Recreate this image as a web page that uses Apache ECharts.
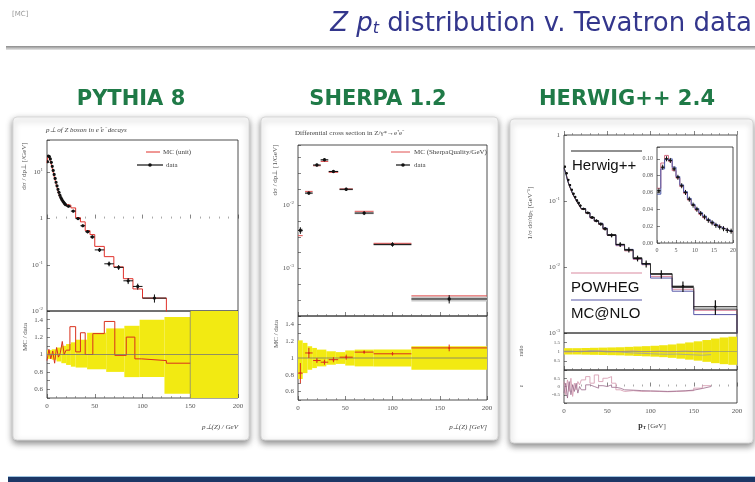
<!DOCTYPE html>
<html><head><meta charset="utf-8">
<script src="https://cdn.jsdelivr.net/npm/echarts@6/dist/echarts.min.js"></script>
<style>html,body{margin:0;padding:0;background:#fff}#c{width:755px;height:482px}</style>
</head><body><div id="c"></div><script>
// ---------------- DATA ----------------
// PYTHIA 8 main plot
const pyEdges = [0,1,2,3,4,5,6,7,8,9,10,11,12,13,14,15,16,17,18,19,20,25,30,35,40,45,50,60,70,80,90,100,125];
const pyData = [17,22.5,22,19.5,16.5,13.5,11,9,7.4,6.1,5.1,4.3,3.7,3.2,2.85,2.6,2.4,2.25,2.1,2.0,1.85,1.45,1.0,0.7,0.52,0.4,0.21,0.105,0.088,0.045,0.034,0.019];
const pyDataErr = [0.03,0.03,0.03,0.03,0.03,0.03,0.03,0.03,0.03,0.03,0.04,0.04,0.04,0.04,0.04,0.04,0.05,0.05,0.05,0.05,0.06,0.06,0.07,0.07,0.08,0.08,0.1,0.12,0.12,0.15,0.15,0.2];
const pyMC = [16,23,22.5,19,16,13.8,10.8,9.2,7.2,6.3,5.0,4.4,3.6,3.3,2.8,2.7,2.35,2.3,2.05,2.05,1.95,1.7,1.05,0.85,0.55,0.45,0.25,0.15,0.09,0.05,0.03,0.019];
// PYTHIA ratio
const pyBandEdges = [0,5,10,15,20,25,30,42,62,81,97,123,150,200];
const pyBandHi = [1.05,1.06,1.08,1.1,1.12,1.14,1.17,1.25,1.3,1.33,1.4,1.43,1.6];
const pyBandLo = [0.95,0.94,0.92,0.9,0.88,0.86,0.85,0.83,0.8,0.74,0.74,0.55,0.4];
const pyRatioEdges = [0,2,4,6,8,10,12,14,16,18,20,24,30,35,40,48,60,71,83,92,99,125,150];
const pyRatio = [0.93,1.06,0.95,1.04,0.9,1.08,0.97,1.02,1.15,1.0,1.05,1.32,1.03,1.25,1.0,1.24,1.38,0.99,1.2,0.95,0.93,0.9];
// SHERPA 1.2
const shX = [2.5,11.5,20,28,37.5,51,70,100,160];
const shXerr = [2.5,4,4,4,5,7,10,20,40];
const shData = [0.0040,0.0155,0.043,0.052,0.034,0.0178,0.0075,0.0024,0.00033];
const shErrRel = [0.12,0.06,0.05,0.05,0.05,0.06,0.07,0.08,0.15];
const shMC = [0.0033,0.0165,0.042,0.049,0.033,0.018,0.0080,0.0025,0.00037];
const shRatio = [0.82,1.06,0.97,0.95,0.98,1.01,1.07,1.05,1.12];
const shRatioErr = [0.12,0.06,0.03,0.03,0.03,0.03,0.02,0.02,0.04];
const shBandEdges = [0,5,10,15,20,30,40,50,60,80,120,200];
const shBandHi = [1.21,1.18,1.14,1.12,1.1,1.08,1.07,1.09,1.1,1.1,1.14];
const shBandLo = [0.75,0.82,0.86,0.88,0.9,0.92,0.93,0.91,0.9,0.9,0.86];
// HERWIG++ 2.4
const hwEdges = [0,2,4,6,8,10,12,14,16,18,20,25,30,35,40,45,50,60,70,80,90,100,125,150,200];
const hwData = [0.331,0.263,0.209,0.174,0.148,0.129,0.115,0.102,0.0933,0.0851,0.0759,0.0661,0.0562,0.0501,0.0447,0.038,0.0302,0.0219,0.0182,0.0135,0.0112,0.0078,0.0051,0.0025];
const hwErrRel = [0.03,0.03,0.03,0.03,0.03,0.03,0.03,0.03,0.04,0.04,0.04,0.05,0.05,0.05,0.06,0.06,0.07,0.08,0.09,0.1,0.12,0.14,0.18,0.25];
const hwHerwig = [0.32,0.27,0.21,0.17,0.15,0.128,0.114,0.103,0.092,0.084,0.076,0.066,0.057,0.05,0.045,0.038,0.031,0.022,0.018,0.0138,0.0112,0.0079,0.0049,0.0023];
const hwPowheg = [0.30,0.275,0.215,0.172,0.146,0.127,0.113,0.101,0.092,0.083,0.075,0.065,0.055,0.049,0.044,0.037,0.03,0.021,0.0175,0.013,0.0108,0.0072,0.0046,0.0022];
const hwMcnlo = [0.31,0.26,0.205,0.176,0.15,0.13,0.116,0.104,0.094,0.085,0.077,0.067,0.056,0.05,0.046,0.039,0.0305,0.0215,0.0185,0.0133,0.011,0.0068,0.0043,0.0019];
const hwBandEdges = [0,10,20,30,40,50,60,70,80,90,100,110,120,130,140,150,160,170,180,190,200];
const hwBandHalf = [0.18,0.18,0.19,0.2,0.21,0.22,0.23,0.25,0.27,0.29,0.31,0.34,0.38,0.43,0.49,0.55,0.62,0.7,0.76,0.8];
const hwR1Edges = [0,10,20,30,40,50,60,70,80,90,100,110,120,130,140,150,160,170];
const hwR1Grey = [1.02,0.98,1.05,1.03,0.97,1.0,0.95,0.92,0.9,0.88,0.86,0.85,0.86,0.84,0.82,0.8,0.83];
const hwR1Pink = [0.98,1.03,0.99,1.04,1.02,0.98,1.01,1.03,0.99,1.0,1.02,0.98,1.0,1.03,1.0,0.97,1.0];
const hwR2Edges = [0,2,4,6,8,10,12,14,16,18,20,25,30,35,40,45,50,55,60,65,70,80,90,100,110,120,130,140,150,160,170];
const hwR2Pink = [0.3,-0.5,0.4,-0.3,0.5,-0.6,0.2,-0.2,0.3,0.1,0.4,0.6,0.2,0.7,0.3,0.5,0.6,0.2,-0.2,-0.3,-0.25,-0.3,-0.28,-0.3,-0.32,-0.3,-0.28,-0.25,-0.1,0.05];
const hwR2Dark = [-0.4,0.2,-0.7,0.3,-0.5,0.1,-0.3,0.2,-0.4,0.0,-0.2,0.1,0.0,-0.1,0.05,0.0,0.1,-0.05,-0.1,-0.2,-0.22,-0.25,-0.27,-0.28,-0.3,-0.28,-0.26,-0.22,-0.12,0.0];
// HERWIG inset
const inEdges = [0,1,2,3,4,5,6,7,8,9,10,11,12,13,14,15,16,17,18,19,20];
const inData = [0.062,0.09,0.1,0.098,0.088,0.078,0.068,0.06,0.052,0.045,0.04,0.035,0.031,0.027,0.024,0.021,0.019,0.017,0.015,0.014];
const inRed = [0.065,0.095,0.104,0.097,0.086,0.077,0.067,0.059,0.051,0.045,0.039,0.034,0.03,0.027,0.024,0.021,0.019,0.017,0.015,0.013];
const inBlue = [0.058,0.088,0.099,0.1,0.09,0.079,0.069,0.061,0.053,0.046,0.041,0.036,0.032,0.028,0.025,0.022,0.019,0.017,0.015,0.014];

// ---------------- HELPERS ----------------
const FONT = 'Liberation Serif';
const L = v => Math.log10(v);
const mid = (e,i) => (e[i]+e[i+1])/2;
function stepData(edges, vals, tf, tail) {
  const d = vals.map((v,i)=>[edges[i], tf(v)]);
  d.push([edges[edges.length-1], tf(vals[vals.length-1])]);
  if (tail !== undefined) d.push([edges[edges.length-1], tail]);
  return d;
}
function stepSeries(xi, data, color, w, z) {
  return {type:'line', xAxisIndex:xi, yAxisIndex:xi, data, step:'end', symbol:'none', clip:true,
    lineStyle:{color, width:w||1}, z:z||3, silent:true, animation:false};
}
function bandSeries(xi, edges, lo, hi, color) {
  return {type:'custom', xAxisIndex:xi, yAxisIndex:xi, clip:true, silent:true, animation:false, z:1,
    encode:{x:[0,1], y:[2,3]},
    data: lo.map((l,i)=>[edges[i], edges[i+1], l, hi[i]]),
    renderItem:(p, api)=>{
      const a = api.coord([api.value(0), api.value(3)]);
      const b = api.coord([api.value(1), api.value(2)]);
      const r = echarts.graphic.clipRectByRect({x:a[0], y:a[1], width:b[0]-a[0], height:b[1]-a[1]},
        {x:p.coordSys.x, y:p.coordSys.y, width:p.coordSys.width, height:p.coordSys.height});
      if (!r) return;
      return {type:'rect', shape:r, style:{fill:color}};
    }};
}
// points with error bars: rows [x, y, xlo, xhi, ylo, yhi]
function errSeries(xi, rows, color, w, dot) {
  return {type:'custom', xAxisIndex:xi, yAxisIndex:xi, clip:true, silent:true, animation:false, z:5,
    encode:{x:0, y:1}, data: rows,
    renderItem:(p, api)=>{
      const c = api.coord([api.value(0), api.value(1)]);
      const l = api.coord([api.value(2), api.value(1)]);
      const r = api.coord([api.value(3), api.value(1)]);
      const b = api.coord([api.value(0), api.value(4)]);
      const t = api.coord([api.value(0), api.value(5)]);
      const st = {stroke:color, lineWidth:w||1};
      const ch = [
        {type:'line', shape:{x1:l[0], y1:l[1], x2:r[0], y2:r[1]}, style:st},
        {type:'line', shape:{x1:b[0], y1:b[1], x2:t[0], y2:t[1]}, style:st}];
      if (dot) ch.push({type:'circle', shape:{cx:c[0], cy:c[1], r:dot}, style:{fill:color}});
      return {type:'group', children:ch};
    }};
}
const logFmt = v => { const r = Math.round(v); if (Math.abs(v-r) > 1e-6) return ''; if (r === 0) return '1'; return '10{s|' + r + '}'; };
const labRich = {s:{fontSize:5, fontFamily:FONT, color:'#555', verticalAlign:'top', padding:[0,0,5,0]}};
function xAx(gi, min, max, interval, showLab) {
  return {type:'value', gridIndex:gi, min, max, interval, axisLine:{show:false}, splitLine:{show:false},
    axisTick:{show:true, inside:true, length:4, lineStyle:{color:'#333', width:0.6}},
    minorTick:{show:true, splitNumber:5, length:2, lineStyle:{color:'#555', width:0.5}},
    axisLabel:{show:!!showLab, fontSize:7, color:'#555', fontFamily:FONT, margin:5}};
}
function yAx(gi, min, max, interval, fmt, tick) {
  return {type:'value', gridIndex:gi, min, max, interval, axisLine:{show:false}, splitLine:{show:false},
    axisTick:{show:tick!==false, inside:true, length:3, lineStyle:{color:'#333', width:0.6}},
    axisLabel:{show:true, fontSize:7, color:'#555', fontFamily:FONT, margin:4, formatter:fmt, rich:labRich}};
}
const grid = (left, top, width, height, bg) => ({left, top, width, height, show:true, borderColor:'#222', borderWidth:0.8, backgroundColor:bg||'transparent'});
const oneDec = v => { const r = Math.round(v*10)/10; if (Math.abs(r*5 - Math.round(r*5)) > 1e-6 || r < 0.55 || r > 1.45) return ''; return r === 1 ? '1' : String(r); };

// ---------------- GRIDS / AXES ----------------
const grids = [
  grid(47,140,191,171),          // 0 pythia main
  grid(47,311,191,87),           // 1 pythia ratio
  grid(298,145,189,171),         // 2 sherpa main
  grid(298,316,189,84),          // 3 sherpa ratio
  grid(564,135,173,198),         // 4 herwig main
  grid(564,333,173,37),          // 5 herwig r1
  grid(564,370,173,33),          // 6 herwig r2
  grid(657,147,76,96,'#fff')     // 7 inset
];
const xAxes = [
  xAx(0,0,200,50,false), xAx(1,0,200,50,true),
  xAx(2,0,200,50,false), xAx(3,0,200,50,true),
  xAx(4,0,200,50,false), xAx(5,0,200,50,false), xAx(6,0,200,50,true),
  xAx(7,0,20,5,true)
];
const yAxes = [
  yAx(0,-2,1.7,1,logFmt),
  yAx(1,0.5,1.5,0.1,oneDec),
  yAx(2,-3.75,-1.05,0.25,logFmt),
  yAx(3,0.5,1.5,0.1,oneDec),
  yAx(4,-3,0,1,logFmt),
  yAx(5,0,2,0.5,v=>(v>0&&v<2)?String(v):''),
  yAx(6,-1,1,0.5,v=>(v>-1&&v<1)?String(v):''),
  yAx(7,0,0.114,0.02,v=>v>0.11?'':v.toFixed(2))
];
yAxes[5].axisLabel.fontSize = 5; yAxes[6].axisLabel.fontSize = 5; yAxes[7].axisLabel.fontSize = 6;
xAxes[7].axisLabel.fontSize = 6; xAxes[7].axisLabel.margin = 4;
xAxes[7].axisTick.length = 3;

// ---------------- SERIES ----------------
const id = v => v;
const series = [];
// PYTHIA main
series.push(stepSeries(0, stepData(pyEdges, pyMC, L, -5), '#e0302a', 1, 3));
series.push(errSeries(0, pyData.map((v,i)=>[mid(pyEdges,i), L(v), pyEdges[i], pyEdges[i+1], L(v*(1-pyDataErr[i])), L(v*(1+pyDataErr[i]))]), '#111', 1, 1.6));
// PYTHIA ratio
series.push(bandSeries(1, pyBandEdges, pyBandLo, pyBandHi, '#f2ea12'));
series.push(stepSeries(1, stepData(pyRatioEdges, pyRatio, id), '#d9301c', 1, 3));
series.push({type:'line', xAxisIndex:1, yAxisIndex:1, data:[[0,1],[200,1]], symbol:'none', lineStyle:{color:'#777', width:0.8}, z:4, silent:true, animation:false});
series.push({type:'line', xAxisIndex:1, yAxisIndex:1, data:[[150,0.5],[150,1.5]], symbol:'none', lineStyle:{color:'#666', width:0.6}, z:4, silent:true, animation:false});
// SHERPA main
series.push({type:'custom', xAxisIndex:2, yAxisIndex:2, clip:true, silent:true, animation:false, z:2, encode:{x:[0,1], y:[2,3]},
  data: shData.map((v,i)=>[shX[i]-shXerr[i], shX[i]+shXerr[i], L(v*(1-shErrRel[i]*0.6)), L(v*(1+shErrRel[i]*0.6))]),
  renderItem:(p, api)=>{ const a = api.coord([api.value(0), api.value(3)]); const b = api.coord([api.value(1), api.value(2)]);
    return {type:'rect', shape:{x:a[0], y:a[1], width:b[0]-a[0], height:Math.max(2, b[1]-a[1])}, style:{fill:'#c8c8c8'}}; }});
series.push(errSeries(2, shMC.map((v,i)=>[shX[i], L(v), shX[i]-shXerr[i], shX[i]+shXerr[i], L(v), L(v)]), '#e05050', 1, 0));
series.push(errSeries(2, shData.map((v,i)=>[shX[i], L(v), shX[i]-shXerr[i], shX[i]+shXerr[i], L(v*(1-shErrRel[i])), L(v*(1+shErrRel[i]))]), '#111', 1, 1.7));
// SHERPA ratio
series.push(bandSeries(3, shBandEdges, shBandLo, shBandHi, '#f2ea12'));
series.push({type:'line', xAxisIndex:3, yAxisIndex:3, data:[[0,1],[200,1]], symbol:'none', lineStyle:{color:'#777', width:0.8}, z:4, silent:true, animation:false});
series.push(errSeries(3, shRatio.map((v,i)=>[shX[i], v, shX[i]-shXerr[i], shX[i]+shXerr[i], v-shRatioErr[i], v+shRatioErr[i]]), '#d9301c', 1, 1));
// HERWIG main
series.push(stepSeries(4, stepData(hwEdges, hwPowheg, L, -5), '#d98aa0', 1, 3));
series.push(stepSeries(4, stepData(hwEdges, hwMcnlo, L, -5), '#5858a8', 1, 3));
series.push(stepSeries(4, stepData(hwEdges, hwHerwig, L, -5), '#333', 1, 3));
series.push(errSeries(4, hwData.map((v,i)=>[mid(hwEdges,i), L(v), hwEdges[i], hwEdges[i+1], L(v*(1-hwErrRel[i])), L(v*(1+hwErrRel[i]))]), '#111', 1.2, 1.2));
// HERWIG r1
series.push(bandSeries(5, hwBandEdges, hwBandHalf.map(h=>1-h*0.9), hwBandHalf.map(h=>1+h), '#f0e612'));
series.push(stepSeries(5, stepData(hwR1Edges, hwR1Grey, id), '#a0a0a0', 0.8, 3));
series.push(stepSeries(5, stepData(hwR1Edges, hwR1Pink, id), '#c890a8', 0.8, 3));
series.push({type:'line', xAxisIndex:5, yAxisIndex:5, data:[[0,1],[200,1]], symbol:'none', lineStyle:{color:'#888', width:0.6}, z:4, silent:true, animation:false});
// HERWIG r2
series.push(stepSeries(6, stepData(hwR2Edges, hwR2Pink, id), '#d8a0b4', 0.9, 3));
series.push(stepSeries(6, stepData(hwR2Edges, hwR2Dark, id), '#9a6a8a', 0.8, 3));
// inset
series.push(stepSeries(7, stepData(inEdges, inRed, id), '#d06a80', 1, 3));
series.push(stepSeries(7, stepData(inEdges, inBlue, id), '#4a58a8', 1, 3));
series.push(errSeries(7, inData.map((v,i)=>[mid(inEdges,i), v, inEdges[i], inEdges[i+1], v-0.003, v+0.003]), '#111', 1, 1));

// ---------------- GRAPHICS (slide) ----------------
const panel = (x,y,w,h) => ({type:'rect', z:-1, shape:{x,y,width:w,height:h,r:4},
  style:{fill:'#fff', stroke:'#d8d8d8', lineWidth:1, shadowBlur:6, shadowOffsetY:3, shadowColor:'rgba(0,0,0,0.45)'}});
const txt = (x,y,text,o) => ({type:'text', z:50, x, y, style:Object.assign({text, fill:'#444', font:'7px ' + FONT, textAlign:'left', textVerticalAlign:'middle'}, o||{})});
const ln = (x1,y1,x2,y2,color,w) => ({type:'line', z:50, shape:{x1,y1,x2,y2}, style:{stroke:color, lineWidth:w||1}});
const rtxt = (x,y,text,size) => ({type:'text', z:50, x, y, rotation:Math.PI/2, style:{text, fill:'#555', font:(size||7)+'px ' + FONT, textAlign:'center', textVerticalAlign:'middle'}});

const graphics = [
  {type:'rect', z:-2, shape:{x:6,y:46,width:749,height:4}, style:{fill:new echarts.graphic.LinearGradient(0,0,0,1,[{offset:0,color:'#8a8a8a'},{offset:1,color:'#e8e8e8'}])}},
  {type:'rect', z:-2, shape:{x:8,y:476,width:747,height:1}, style:{fill:'#9fc4e0'}},
  {type:'rect', z:-2, shape:{x:8,y:477,width:747,height:5}, style:{fill:'#1c3766'}},
  panel(13,117,236,323), panel(261,117,237,323), panel(510,119,243,324),
  txt(12,14,'[MC]', {fill:'#999', font:'7px DejaVu Sans'}),
  {type:'text', z:50, x:752, y:24, style:{text:'{i|Z} {i|p}{sub|t} distribution v. Tevatron data', fill:'#33368c', font:'26px DejaVu Sans', textAlign:'right', textVerticalAlign:'middle',
    rich:{i:{font:'italic 26px DejaVu Sans', fill:'#33368c'}, sub:{font:'italic 16px DejaVu Sans', fill:'#33368c', verticalAlign:'bottom', padding:[10,0,0,0]}}}},
  txt(131,100,'PYTHIA 8', {fill:'#1f7a47', font:'bold 21px DejaVu Sans', textAlign:'center'}),
  txt(378,100,'SHERPA 1.2', {fill:'#1f7a47', font:'bold 21px DejaVu Sans', textAlign:'center'}),
  txt(627,100,'HERWIG++ 2.4', {fill:'#1f7a47', font:'bold 21px DejaVu Sans', textAlign:'center'}),
  // PYTHIA texts
  txt(46,130,'p\u22a5 of Z boson in e\u207ae\u207b decays', {font:'italic 7px ' + FONT}),
  ln(146,152,160,152,'#e0302a',1), txt(163,152,'MC (unit)'),
  ln(137,165,163,165,'#111',1.2), {type:'circle', z:50, shape:{cx:150,cy:165,r:1.8}, style:{fill:'#111'}}, txt(166,165,'data'),
  rtxt(24,166,'d\u03c3 / dp\u22a5 [/GeV]'), rtxt(25,337,'MC / data'),
  txt(238,427,'p\u22a5(Z) / GeV', {textAlign:'right', font:'italic 7px ' + FONT}),
  // SHERPA texts
  txt(295,133,'Differential cross section in Z/\u03b3*\u2192e\u207ae\u207b', {font:'7px ' + FONT}),
  ln(391,152,410,152,'#e05050',1), txt(414,152,'MC (SherpaQuality/GeV)'),
  ln(396,165,410,165,'#111',1.2), {type:'circle', z:50, shape:{cx:403,cy:165,r:1.8}, style:{fill:'#111'}}, txt(414,165,'data'),
  rtxt(275,170,'d\u03c3 / dp\u22a5 [1/GeV]'), rtxt(276,334,'MC / data'),
  txt(487,427,'p\u22a5(Z) [GeV]', {textAlign:'right', font:'italic 7px ' + FONT}),
  // HERWIG texts
  ln(571,151,642,151,'#222',1.2),
  txt(572,166,'Herwig++', {fill:'#111', font:'15px Liberation Sans'}),
  ln(571,273,642,273,'#d98aa0',1.2),
  txt(571,288,'POWHEG', {fill:'#111', font:'15px Liberation Sans'}),
  ln(571,300,642,300,'#5858a8',1.2),
  txt(571,314,'MC@NLO', {fill:'#111', font:'15px Liberation Sans'}),
  rtxt(530,213,'1/\u03c3 d\u03c3/dp\u209c [GeV\u207b\u00b9]'),
  rtxt(521,351,'ratio', 6), rtxt(521,386,'\u03b5', 6),
  txt(652,426,'{b|p}{s|T} [GeV]', {textAlign:'center', font:'7px ' + FONT, rich:{b:{font:'bold 8px ' + FONT, fill:'#333'}, s:{font:'bold 5px ' + FONT, fill:'#333', verticalAlign:'bottom'}}})
];

const chart = echarts.init(document.getElementById('c'), null, {renderer:'canvas', width:755, height:482});
chart.setOption({
  animation:false, backgroundColor:'#fff',
  grid:grids, xAxis:xAxes, yAxis:yAxes, series, graphic:{elements:graphics}
});
</script></body></html>
